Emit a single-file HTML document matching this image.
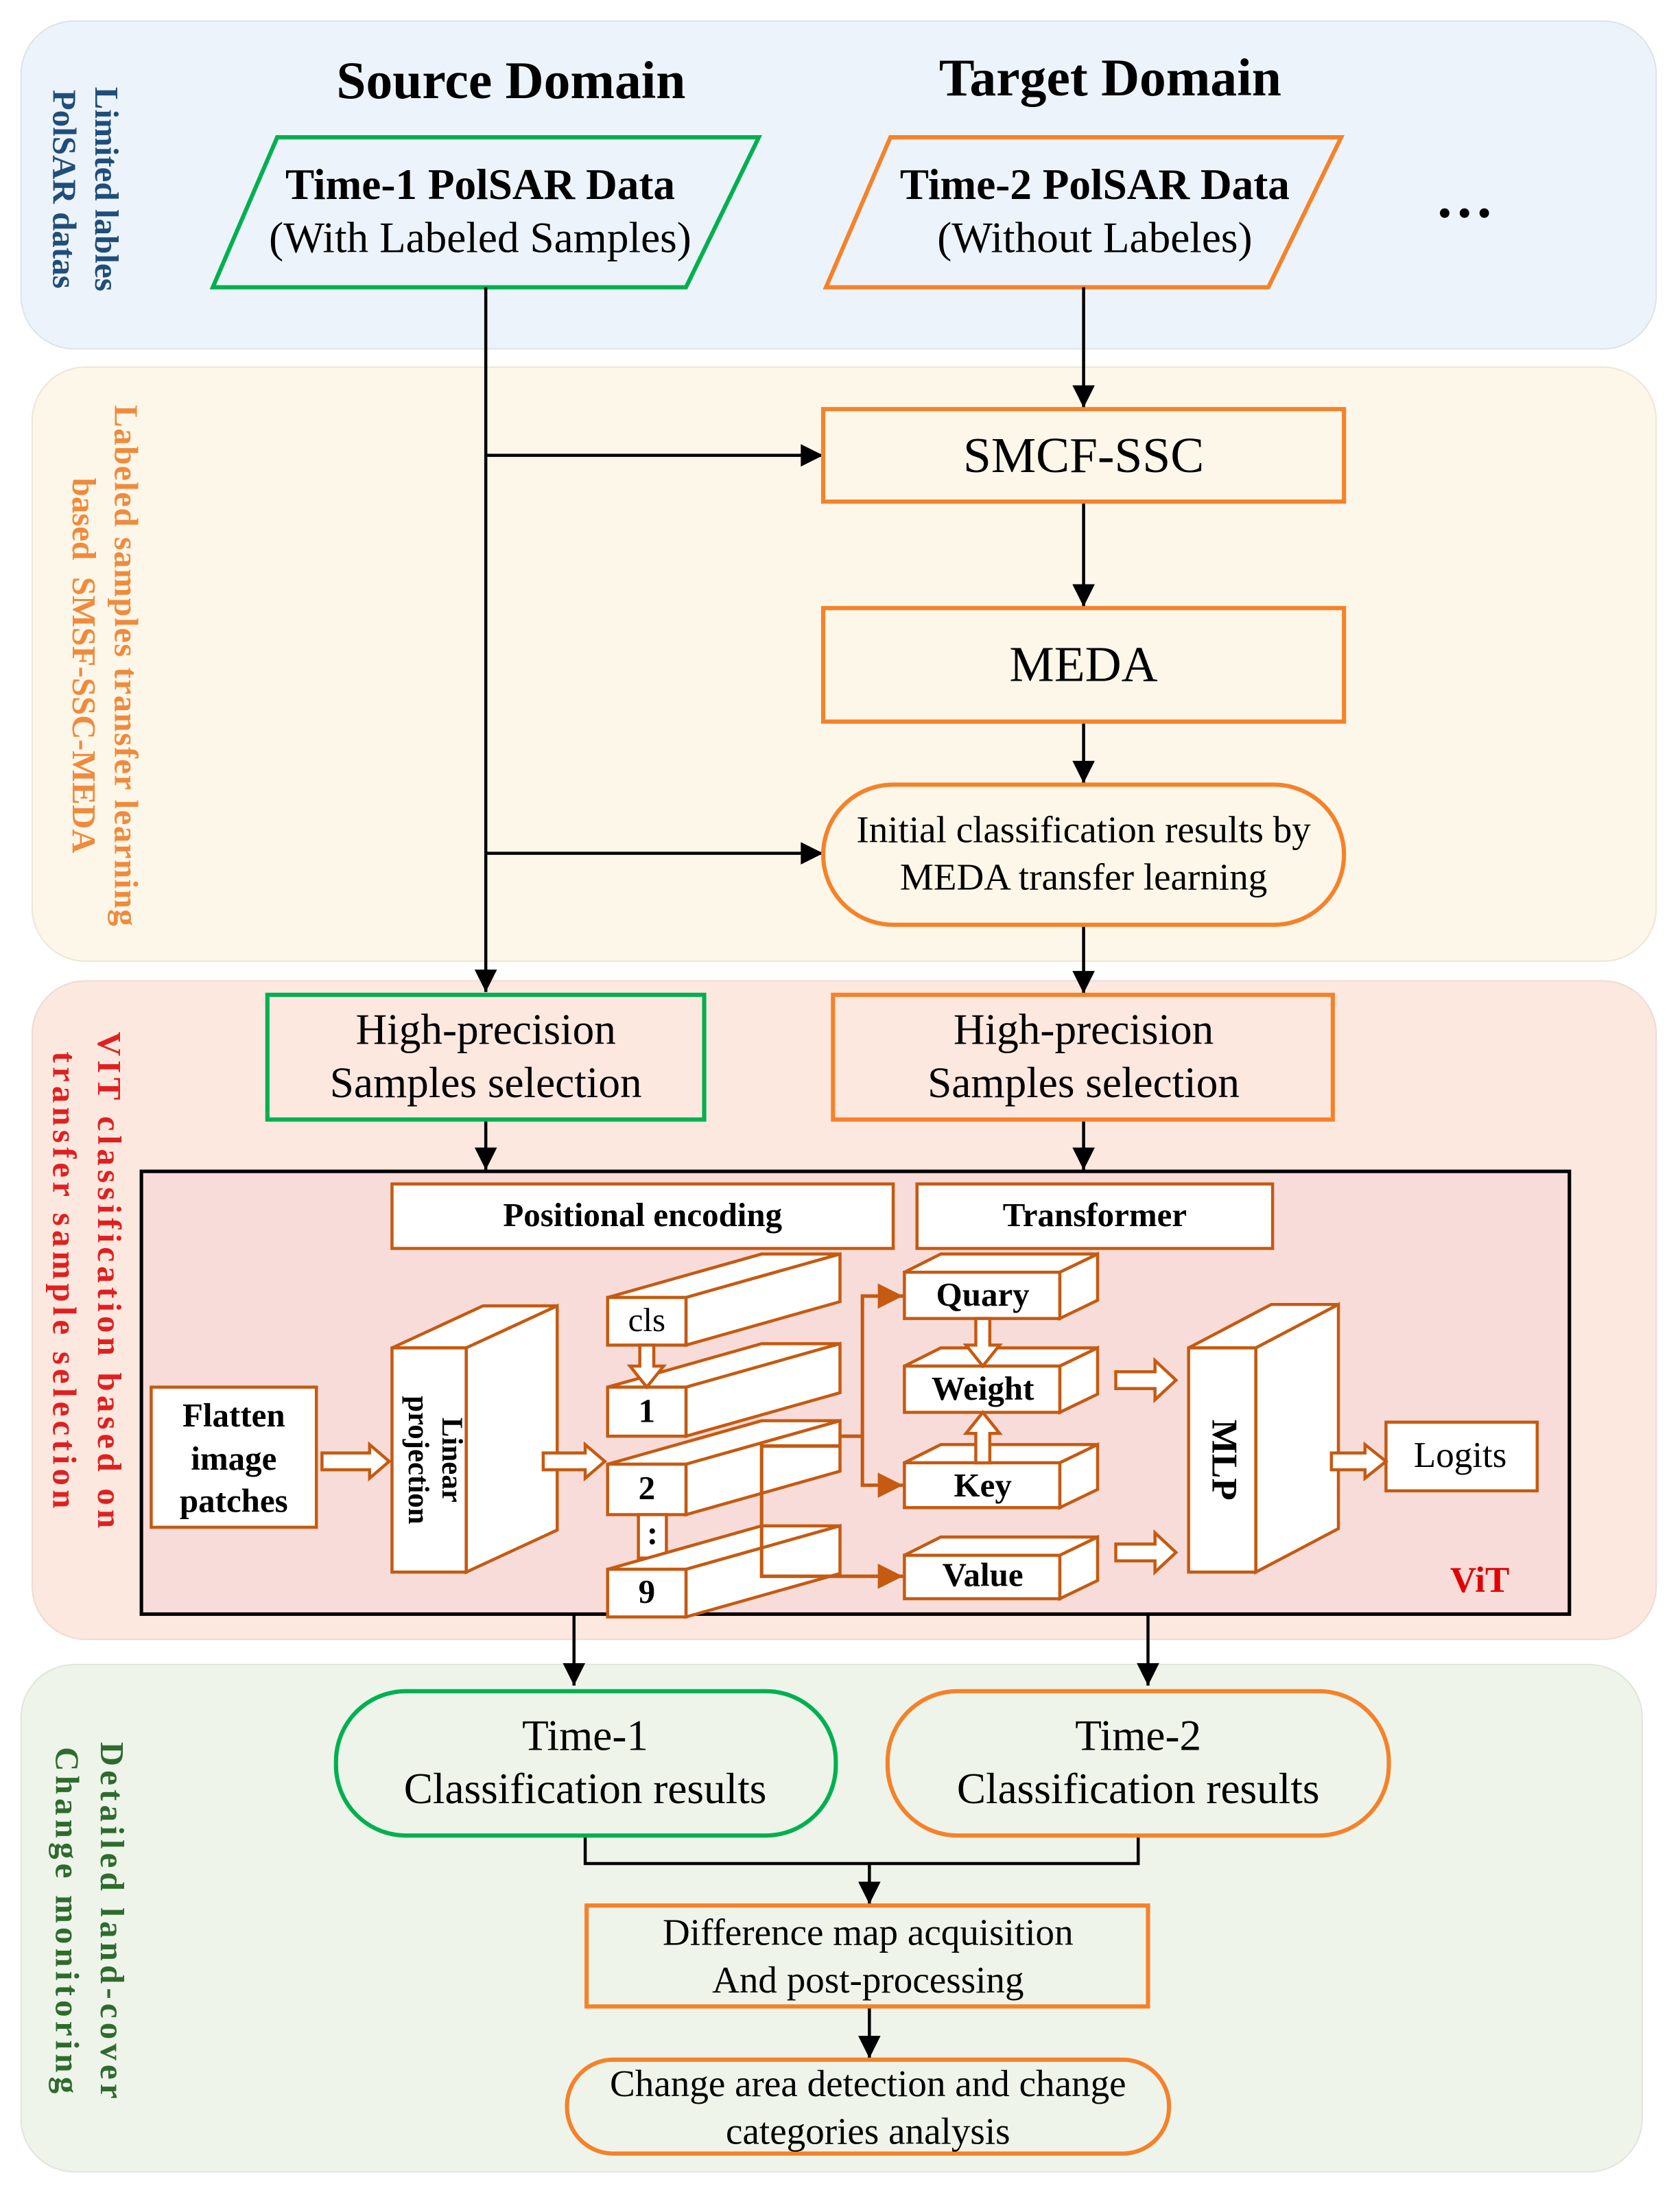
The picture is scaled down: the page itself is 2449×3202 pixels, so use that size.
<!DOCTYPE html>
<html><head><meta charset="utf-8"><style>html,body{margin:0;padding:0;background:#fff}svg{display:block}</style></head>
<body>
<svg width="2449" height="3202" viewBox="0 0 1200 1568" preserveAspectRatio="none" xmlns="http://www.w3.org/2000/svg" font-family="'Liberation Serif', serif">
<defs>
<marker id="ab2" viewBox="0 0 10 10" markerWidth="20" markerHeight="16" refX="10" refY="5" orient="auto" markerUnits="userSpaceOnUse"><path d="M0,0 L10,5 L0,10 z" fill="#000"/></marker>
<marker id="ob" viewBox="0 0 10 10" markerWidth="20" markerHeight="18" refX="10" refY="5" orient="auto" markerUnits="userSpaceOnUse"><path d="M0,0 L10,5 L0,10 z" fill="#c55a11"/></marker>
</defs>
<rect x="15" y="15" width="1168" height="234" rx="38" fill="#edf3fb" stroke="#dde3ea" stroke-width="1"/>
<rect x="23" y="262" width="1160" height="424" rx="38" fill="#fdf7e9" stroke="#eee6d6" stroke-width="1"/>
<rect x="23" y="700" width="1160" height="470" rx="38" fill="#fde8df" stroke="#eedbd2" stroke-width="1"/>
<rect x="15" y="1188" width="1158" height="362" rx="38" fill="#eef4ea" stroke="#dfe6db" stroke-width="1"/>

<g font-weight="bold" font-size="24">
<text transform="translate(68,135) rotate(90)" text-anchor="middle" fill="#1f4e79">Limited lables</text>
<text transform="translate(38,135) rotate(90)" text-anchor="middle" fill="#1f4e79">PolSAR datas</text>
<text transform="translate(82,475) rotate(90)" text-anchor="middle" fill="#f08a3c" textLength="372">Labeled samples transfer learning</text>
<text transform="translate(52,475) rotate(90)" text-anchor="middle" fill="#f08a3c" xml:space="preserve">based  SMSF-SSC-MEDA</text>
<text transform="translate(70,915) rotate(90)" text-anchor="middle" fill="#e02020" letter-spacing="3">VIT classification based on</text>
<text transform="translate(38,915) rotate(90)" text-anchor="middle" fill="#e02020" letter-spacing="3">transfer sample selection</text>
<text transform="translate(72,1372) rotate(90)" text-anchor="middle" fill="#2e6b2e" letter-spacing="3">Detailed land-cover</text>
<text transform="translate(40,1372) rotate(90)" text-anchor="middle" fill="#2e6b2e" letter-spacing="3">Change monitoring</text>
</g>

<text x="365" y="70" font-size="38" font-weight="bold" text-anchor="middle">Source Domain</text>
<text x="793" y="68" font-size="38" font-weight="bold" text-anchor="middle">Target Domain</text>
<text x="1046" y="155" font-size="42" font-weight="bold" text-anchor="middle">…</text>

<polygon points="198,98 542,98 490,205 152,205" fill="none" stroke="#00b050" stroke-width="3"/>
<text x="343" y="142" font-size="31" font-weight="bold" text-anchor="middle">Time-1 PolSAR Data</text>
<text x="343" y="180" font-size="31" text-anchor="middle">(With Labeled Samples)</text>
<polygon points="636,98 958,98 906,205 590,205" fill="none" stroke="#f5822a" stroke-width="3"/>
<text x="782" y="142" font-size="31" font-weight="bold" text-anchor="middle">Time-2 PolSAR Data</text>
<text x="782" y="180" font-size="31" text-anchor="middle">(Without Labeles)</text>

<g stroke="#000" stroke-width="2.2" fill="none">
<line x1="347" y1="205" x2="347" y2="708" marker-end="url(#ab2)"/>
<line x1="347" y1="325" x2="588" y2="325" marker-end="url(#ab2)"/>
<line x1="347" y1="609" x2="588" y2="609" marker-end="url(#ab2)"/>
<line x1="774" y1="205" x2="774" y2="291" marker-end="url(#ab2)"/>
<line x1="774" y1="358" x2="774" y2="433" marker-end="url(#ab2)"/>
<line x1="774" y1="515" x2="774" y2="559" marker-end="url(#ab2)"/>
<line x1="774" y1="660" x2="774" y2="709" marker-end="url(#ab2)"/>
<line x1="347" y1="799" x2="347" y2="835" marker-end="url(#ab2)"/>
<line x1="774" y1="799" x2="774" y2="835" marker-end="url(#ab2)"/>
<line x1="410" y1="1152" x2="410" y2="1203" marker-end="url(#ab2)"/>
<line x1="820" y1="1152" x2="820" y2="1203" marker-end="url(#ab2)"/>
<polyline points="418,1310 418,1330 813,1330 813,1310"/>
<line x1="621" y1="1330" x2="621" y2="1359" marker-end="url(#ab2)"/>
<line x1="621" y1="1432" x2="621" y2="1469" marker-end="url(#ab2)"/>
</g>

<rect x="588" y="292" width="372" height="66" fill="none" stroke="#f5822a" stroke-width="3"/>
<text x="774" y="337" font-size="36" text-anchor="middle">SMCF-SSC</text>
<rect x="588" y="434" width="372" height="81" fill="none" stroke="#f5822a" stroke-width="3"/>
<text x="774" y="486" font-size="36" text-anchor="middle">MEDA</text>
<rect x="588" y="560" width="372" height="100" rx="50" fill="none" stroke="#f5822a" stroke-width="3"/>
<text x="774" y="601" font-size="27" text-anchor="middle">Initial classification results by</text>
<text x="774" y="635" font-size="27" text-anchor="middle">MEDA transfer learning</text>

<rect x="191" y="710" width="312" height="89" fill="none" stroke="#00b050" stroke-width="3"/>
<text x="347" y="745" font-size="31" text-anchor="middle">High-precision</text>
<text x="347" y="783" font-size="31" text-anchor="middle">Samples selection</text>
<rect x="595" y="710" width="357" height="89" fill="none" stroke="#f5822a" stroke-width="3"/>
<text x="774" y="745" font-size="31" text-anchor="middle">High-precision</text>
<text x="774" y="783" font-size="31" text-anchor="middle">Samples selection</text>

<rect x="101" y="836" width="1020" height="316" fill="#f8dcd9" stroke="#000" stroke-width="2.5"/>
<g stroke="#c55a11" stroke-width="2.2" fill="#fff">
<rect x="280" y="845" width="358" height="46"/>
<rect x="655" y="845" width="254" height="46"/>
<rect x="108" y="990" width="118" height="100"/>
<polygon points="280,962 345,932 398,932 333,962"/>
<polygon points="333,962 398,932 398,1092 333,1122"/>
<rect x="280" y="962" width="53" height="160"/>
<polygon points="434,926 544,895 600,895 490,926"/><polygon points="490,926 600,895 600,929 490,960"/><rect x="434" y="926" width="56" height="34"/>
<polygon points="434,990 544,959 600,959 490,990"/><polygon points="490,990 600,959 600,994 490,1025"/><rect x="434" y="990" width="56" height="35"/>
<polygon points="434,1045 544,1014 600,1014 490,1045"/><polygon points="490,1045 600,1014 600,1050 490,1081"/><rect x="434" y="1045" width="56" height="36"/>
<rect x="456" y="1081" width="20" height="31"/>
<polygon points="434,1120 544,1089 600,1089 490,1120"/><polygon points="490,1120 600,1089 600,1123 490,1154"/><rect x="434" y="1120" width="56" height="34"/>
<polygon points="646,908 672,895 784,895 757,908"/><polygon points="757,908 784,895 784,928 757,941"/><rect x="646" y="908" width="111" height="33"/>
<polygon points="646,975 672,962 784,962 757,975"/><polygon points="757,975 784,962 784,995 757,1008"/><rect x="646" y="975" width="111" height="33"/>
<polygon points="646,1044 672,1031 784,1031 757,1044"/><polygon points="757,1044 784,1031 784,1063 757,1076"/><rect x="646" y="1044" width="111" height="32"/>
<polygon points="646,1110 672,1097 784,1097 757,1110"/><polygon points="757,1110 784,1097 784,1128 757,1141"/><rect x="646" y="1110" width="111" height="31"/>
<polygon points="849,962 908,931 956,931 897,962"/><polygon points="897,962 956,931 956,1091 897,1122"/><rect x="849" y="962" width="48" height="160"/>
<rect x="990" y="1015" width="108" height="49"/>
<polygon points="230,1037 264,1037 264,1031 278,1043 264,1055 264,1049 230,1049"/>
<polygon points="388,1037 418,1037 418,1031 432,1043 418,1055 418,1049 388,1049"/>
<polygon points="797,979 825,979 825,971 840,985 825,999 825,991 797,991"/>
<polygon points="797,1102 825,1102 825,1094 840,1108 825,1122 825,1114 797,1114"/>
<polygon points="951,1037 975,1037 975,1031 990,1043 975,1055 975,1049 951,1049"/>
<polygon points="457,960 467,960 467,975 474,975 462,990 450,975 457,975"/>
<polygon points="697,941 707,941 707,960 714,960 702,975 690,960 697,960"/>
<polygon points="697,1044 707,1044 707,1023 714,1023 702,1008 690,1023 697,1023"/>
</g>
<g stroke="#c55a11" stroke-width="2.5" fill="none">
<polyline points="600,1025 616,1025 616,925 645,925" marker-end="url(#ob)"/>
<polyline points="616,1025 616,1060 645,1060" marker-end="url(#ob)"/>
<polyline points="600,1032 544,1032 544,1125 645,1125" marker-end="url(#ob)"/>
</g>
<g font-weight="bold" font-size="24" text-anchor="middle">
<text x="459" y="875">Positional encoding</text>
<text x="782" y="875">Transformer</text>
<text x="167" y="1018">Flatten</text>
<text x="167" y="1049">image</text>
<text x="167" y="1079">patches</text>
<text x="702" y="932">Quary</text>
<text x="702" y="999">Weight</text>
<text x="702" y="1068">Key</text>
<text x="702" y="1132">Value</text>
<text transform="translate(316,1042) rotate(90)" font-size="21">Linear</text>
<text transform="translate(292,1042) rotate(90)" font-size="21">projection</text>
<text transform="translate(866,1042) rotate(90)" font-size="26">MLP</text>
<text x="1057" y="1136" fill="#e00000" font-size="26">ViT</text>
</g>
<g font-size="24" text-anchor="middle">
<text x="462" y="950">cls</text>
<text x="462" y="1015" font-weight="bold">1</text>
<text x="462" y="1070" font-weight="bold">2</text>
<text x="466" y="1102" font-weight="bold">:</text>
<text x="462" y="1144" font-weight="bold">9</text>
<text x="1043" y="1047" font-size="26">Logits</text>
</g>

<rect x="240" y="1207" width="357" height="103" rx="50" fill="none" stroke="#00b050" stroke-width="3"/>
<text x="418" y="1249" font-size="31" text-anchor="middle">Time-1</text>
<text x="418" y="1287" font-size="31" text-anchor="middle">Classification results</text>
<rect x="634" y="1207" width="358" height="103" rx="50" fill="none" stroke="#f5822a" stroke-width="3"/>
<text x="813" y="1249" font-size="31" text-anchor="middle">Time-2</text>
<text x="813" y="1287" font-size="31" text-anchor="middle">Classification results</text>
<rect x="419" y="1360" width="401" height="72" fill="none" stroke="#f5822a" stroke-width="3"/>
<text x="620" y="1388" font-size="27" text-anchor="middle">Difference map acquisition</text>
<text x="620" y="1422" font-size="27" text-anchor="middle">And post-processing</text>
<rect x="405" y="1470" width="430" height="67" rx="33" fill="none" stroke="#f5822a" stroke-width="3"/>
<text x="620" y="1496" font-size="27" text-anchor="middle">Change area detection and change</text>
<text x="620" y="1530" font-size="27" text-anchor="middle">categories analysis</text>
</svg>
</body></html>
